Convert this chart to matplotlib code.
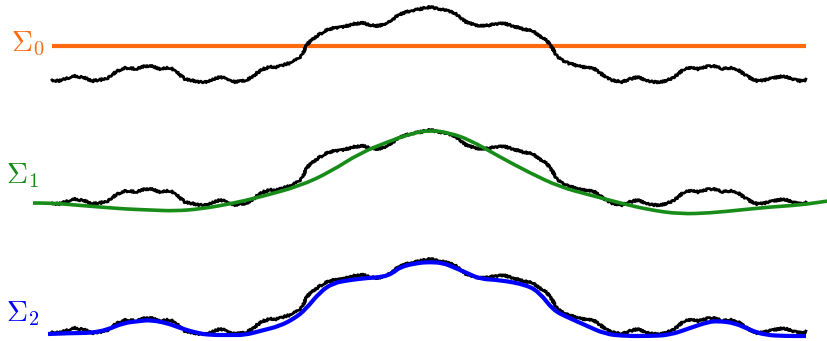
import numpy as np
import matplotlib.pyplot as plt
from matplotlib.path import Path
from matplotlib.patches import PathPatch

plt.rcParams['mathtext.fontset'] = 'cm'

curve_x = [52, 58, 65, 75, 85, 92, 100, 108, 113, 117, 125, 130, 135, 140, 145, 150, 155, 160,
           165, 170, 175, 180, 185, 190, 200, 205, 212, 220, 228, 235, 242, 247, 252, 257, 263,
           270, 277, 283, 290, 296, 300, 303, 306, 310, 317, 325, 333, 343, 353, 363, 370, 378,
           387, 393, 400, 410, 420, 430, 440, 448, 455, 460, 466, 475, 485, 495, 503, 513, 523,
           533, 540, 547, 551, 555, 558, 562, 568, 575, 582, 588, 595, 600, 606, 611, 616, 622,
           630, 638, 646, 653, 660, 668, 673, 678, 683, 688, 693, 698, 703, 708, 713, 718, 723,
           728, 733, 738, 744, 750, 757, 765, 773, 783, 793, 800, 806]
curve_h = [2, 1, 3, 6, 4, 1, 2, 4, 8, 11, 14, 14, 13, 14, 16, 16, 15, 13,
           14, 14, 12, 7, 3, 2, 0, 0, 2, 5, 3, 0, 1, 2, 5, 9, 13,
           15, 15, 17, 19, 22, 25, 29, 36, 41, 46, 51, 54, 55, 58, 59, 57, 56,
           59, 63, 68, 71, 73, 75, 73, 71, 69, 65, 60, 57, 56, 58, 59, 56, 53,
           51, 46, 41, 36, 29, 25, 22, 19, 17, 15, 15, 13, 9, 5, 2, 1, 0,
           3, 5, 2, 0, 0, 2, 4, 8, 12, 14, 14, 13, 14, 16, 16, 15, 13,
           14, 14, 12, 8, 4, 1, 2, 4, 6, 3, 1, 2]

# baselines (image rows) of the three copies
baselines = [82, 205, 334]

# Sigma_0: constant level
sigma0_x = [52, 806]
sigma0_y = [46, 46]

# Sigma_1: smooth approximation (middle copy)
sigma1_x = [33, 52, 75, 100, 125, 150, 175, 200, 230, 260, 300, 330, 360, 390, 410, 430, 450,
            470, 500, 530, 560, 590, 620, 650, 680, 710, 740, 770, 800, 828]
sigma1_y = [203, 203, 205, 207, 209, 210, 211, 209, 204, 197, 186, 172, 153, 141, 134, 130, 133,
            140, 157, 173, 187, 195, 203, 210, 214, 213, 210, 207, 205, 201]

# Sigma_2: finer approximation (bottom copy)
sigma2_x = [48, 73, 90, 107, 123, 140, 150, 167, 180, 197, 210, 230, 245, 260, 280, 295, 305,
            320, 333, 350, 367, 383, 393, 400, 417, 430, 443, 453, 467, 480, 500, 527, 540,
            553, 567, 585, 605, 625, 650, 670, 690, 708, 718, 735, 750, 765, 785, 806]
sigma2_y = [334, 333, 333, 330, 323, 321, 320, 323, 328, 333, 335, 335, 335, 331, 326, 318, 310,
            292, 283, 280, 278, 277, 273, 267, 263, 262, 263, 267, 273, 279, 280, 285, 293,
            310, 317, 325, 334, 336, 336, 335, 328, 322, 321, 323, 330, 335, 336, 336]

orange = '#ff6a0f'
green = '#188c18'
blue = '#0000ff'


def smooth_path(xs, ys):
    # quadratic Bezier path: read points act as control points, drawn smooth by matplotlib
    pts = list(zip(xs, ys))
    verts = [pts[0]]
    codes = [Path.MOVETO]
    for i in range(1, len(pts) - 1):
        nxt = pts[i + 1]
        mid = ((pts[i][0] + nxt[0]) / 2, (pts[i][1] + nxt[1]) / 2)
        verts += [pts[i], mid]
        codes += [Path.CURVE3, Path.CURVE3]
    verts.append(pts[-1])
    codes.append(Path.LINETO)
    return Path(verts, codes)


fig = plt.figure(figsize=(8.28, 3.41), dpi=100)
ax = fig.add_axes([0, 0, 1, 1])
ax.set_xlim(0, 828)
ax.set_ylim(341, 0)
ax.axis('off')

cx = np.array(curve_x)
ch = np.array(curve_h)
for i, base in enumerate(baselines):
    line, = ax.plot(cx, base - ch, color='black', lw=2.0, zorder=3 if i == 0 else 2,
                    solid_joinstyle='round')
    line.set_sketch_params(1.0, 2.5, 2)

ax.plot(sigma0_x, sigma0_y, color=orange, lw=3.0, zorder=2, solid_capstyle='butt')
ax.add_patch(PathPatch(smooth_path(sigma1_x, sigma1_y), fill=False, edgecolor=green,
                       lw=2.6, zorder=3, capstyle='butt'))
ax.add_patch(PathPatch(smooth_path(sigma2_x, sigma2_y), fill=False, edgecolor=blue,
                       lw=3.0, zorder=3, capstyle='butt'))

ax.text(11, 51, r'$\Sigma_0$', color=orange, fontsize=21, va='baseline')
ax.text(6, 183, r'$\Sigma_1$', color=green, fontsize=21, va='baseline')
ax.text(6, 321, r'$\Sigma_2$', color=blue, fontsize=21, va='baseline')

fig.savefig('out.png', dpi=100)
